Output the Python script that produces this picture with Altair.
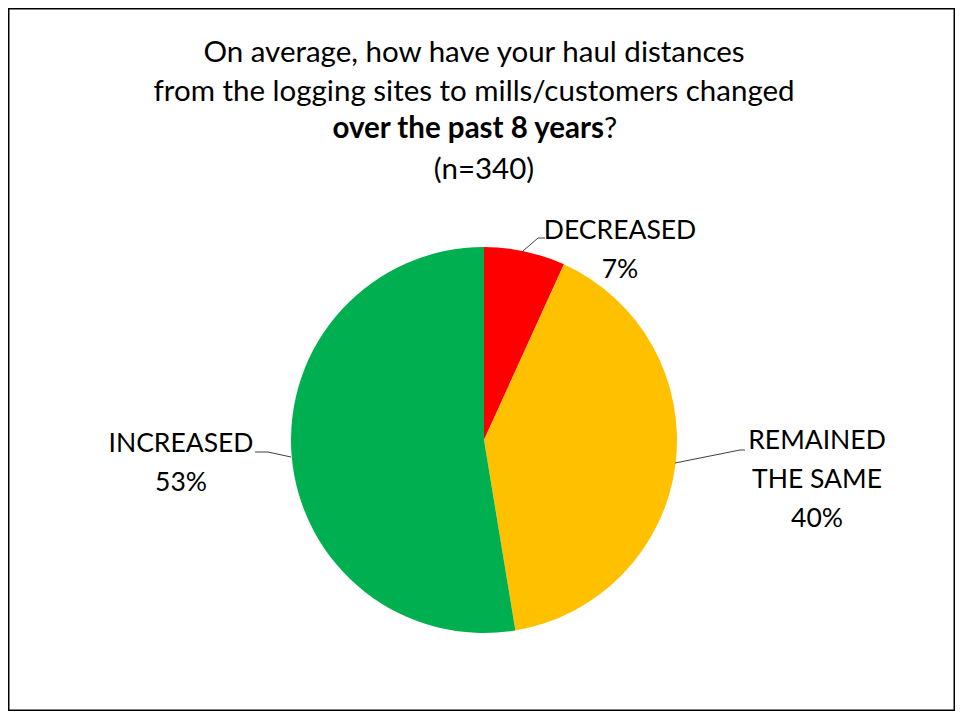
import altair as alt
import pandas as pd

# ---- data ----
categories = ["DECREASED", "REMAINED THE SAME", "INCREASED"]
shares = [6.8, 40.6, 52.6]          # slice sizes
pct_labels = ["7%", "40%", "53%"]   # printed labels
label_lines = ["DECREASED", "REMAINED\nTHE SAME", "INCREASED"]
colors = ["#FF0000", "#FFC000", "#00B050"]
title_lines = [
    "On average, how have your haul distances",
    "from the logging sites to mills/customers changed",
]
title_bold = "over the past 8 years"
title_q = "?"
title_n = "(n=340)"

df = pd.DataFrame({
    "cat": categories,
    "share": shares,
    "order": list(range(len(categories))),
    "label": [f"{l}\n{p}" for l, p in zip(label_lines, pct_labels)],
})

FONT = "Lato"
FS = 26.5
TFS = 29.5
W, H = 947, 703
CX, CY, R = 476, 432, 193

base = alt.Chart(df)

pie = base.mark_arc(outerRadius=R, stroke=None).encode(
    theta=alt.Theta("share:Q", stack=True),
    order=alt.Order("order:Q"),
    color=alt.Color("cat:N", scale=alt.Scale(domain=categories, range=colors), legend=None),
    x=alt.value(CX),
    y=alt.value(CY),
)

def text_layer(txt, x, y, bold=False, align="center", size=TFS):
    return alt.Chart(pd.DataFrame({"t": [txt]})).mark_text(
        font=FONT, fontSize=size, fontWeight="bold" if bold else "normal",
        align=align, baseline="alphabetic", color="black",
        lineBreak="\n", lineHeight=39,
    ).encode(text="t:N", x=alt.value(x), y=alt.value(y))

titles = [
    text_layer(title_lines[0], 466, 54),
    text_layer(title_lines[1], 466, 93),
    text_layer(title_bold, 596, 130, bold=True, align="right"),
    text_layer(title_q, 596, 130, align="left"),
    text_layer(title_n, 476, 171),
]

label_pos = {"DECREASED": (612, 231), "REMAINED THE SAME": (809, 441), "INCREASED": (173, 444)}
labels = []
for c in categories:
    x, y = label_pos[c]
    labels.append(
        base.transform_filter(alt.datum.cat == c).mark_text(
            font=FONT, fontSize=FS, align="center", baseline="alphabetic",
            color="black", lineBreak="\n", lineHeight=39,
        ).encode(text="label:N", x=alt.value(x), y=alt.value(y))
    )

def seg(x1, y1, x2, y2):
    return alt.Chart(pd.DataFrame({"a": [0]})).mark_rule(color="#404040", strokeWidth=1).encode(
        x=alt.value(x1), y=alt.value(y1), x2=alt.value(x2), y2=alt.value(y2)
    )

leaders = [
    seg(515, 243, 530, 230), seg(530, 230, 537, 230),
    seg(667, 455, 732, 442), seg(732, 442, 737, 442),
    seg(247, 444, 260, 444), seg(260, 444, 283, 449),
]

chart = alt.layer(pie, *leaders, *titles, *labels).properties(
    width=W, height=H, autosize=alt.AutoSizeParams(type="none"), padding=0,
).configure_view(stroke="black", strokeWidth=3)

chart.save("out.html", embed_options={"renderer": "svg", "actions": False})
